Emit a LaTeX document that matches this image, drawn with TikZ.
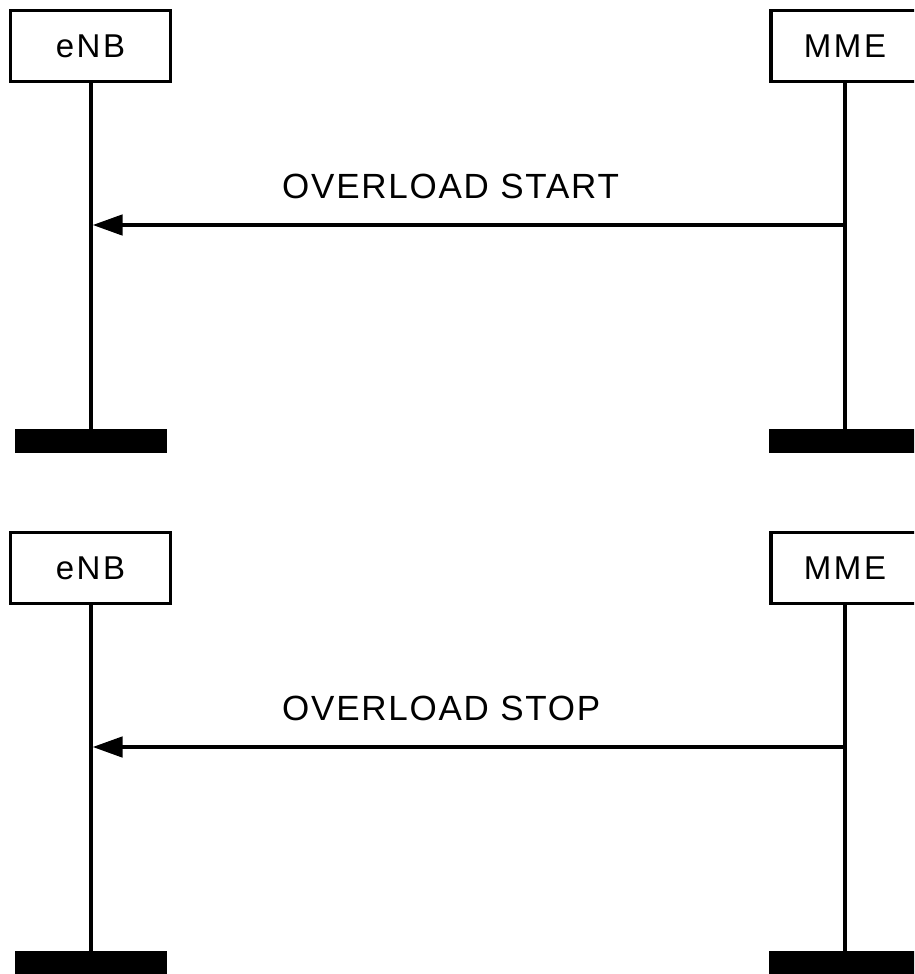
\documentclass[tikz,border=0pt]{standalone}
\usepackage{fontspec}
\setmainfont{Liberation Sans}
\newfontfamily\entityfont[LetterSpace=8]{Liberation Sans}
\newfontfamily\msgfont[LetterSpace=5]{Liberation Sans}
\usetikzlibrary{arrows.meta}
\begin{document}
\begin{tikzpicture}[x=1pt, y=-1pt,
  entity/.style={draw, line width=3.5pt, minimum width=160pt, minimum height=71pt,
    inner sep=0pt, font=\entityfont\fontsize{33}{40}\selectfont},
  stopbar/.style={fill, minimum width=152pt, minimum height=24pt, inner sep=0pt},
  lifeline/.style={line width=3.2pt},
  msg/.style={line width=4.5pt, shorten >=1.5pt, -{Triangle[length=30pt, width=20pt]}},
  msglabel/.style={anchor=base west, inner sep=0pt,
    font=\msgfont\fontsize{35}{42}\selectfont}]
  \clip (0,0) rectangle (914,974);
  \foreach \i/\dy/\txt in {1/0/START, 2/522/STOP} {
    % entities
    \node[entity] (enb\i) at (90.5,46+\dy) {eNB};
    \node[entity, minimum width=148pt] (mme\i) at (845,46+\dy) {MME};
    \node[stopbar] (enbbar\i) at (91,441+\dy) {};
    \node[stopbar] (mmebar\i) at (845,441+\dy) {};
    % lifelines
    \draw[lifeline] (enb\i.south -| enbbar\i.north) -- (enbbar\i.north);
    \draw[lifeline] (mme\i.south -| mmebar\i.north) -- (mmebar\i.north);
    % message
    \coordinate (from\i) at (845,225+\dy);
    \coordinate (to\i) at (91,225+\dy);
    \draw[msg] (from\i) -- (to\i);
    \node[msglabel] (label\i) at (282,198+\dy) {OVERLOAD \txt};
  }
\end{tikzpicture}
\end{document}
